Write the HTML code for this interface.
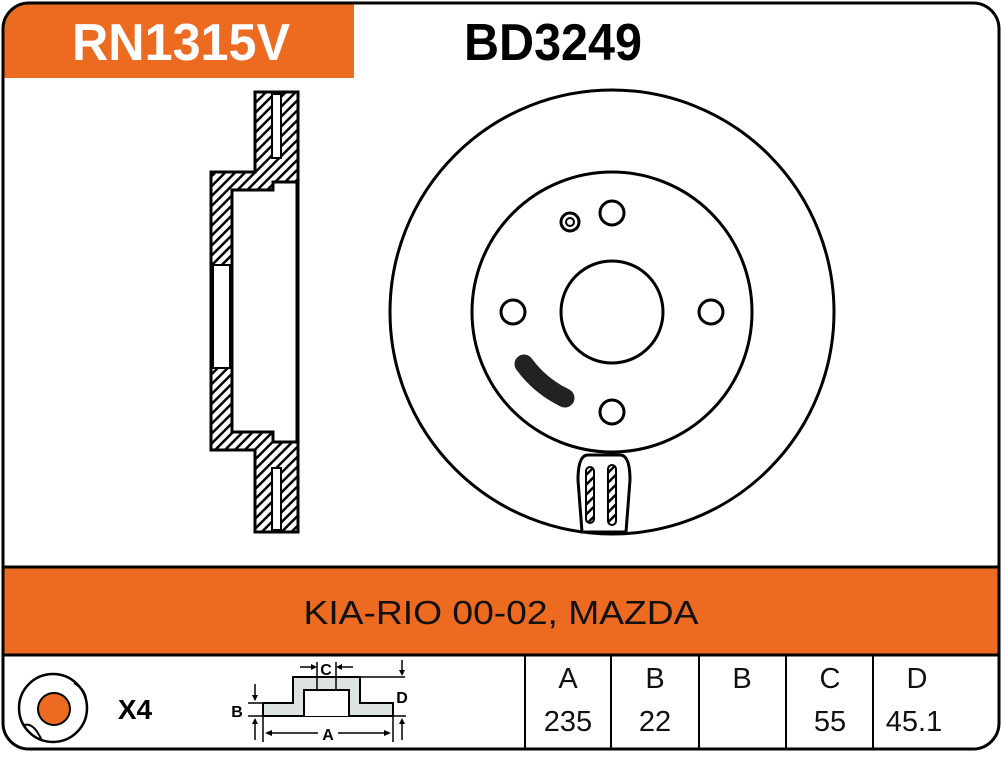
<!DOCTYPE html>
<html><head><meta charset="utf-8"><style>
body{margin:0;background:#fff;width:1002px;height:752px;overflow:hidden;font-family:"Liberation Sans",sans-serif}
</style></head><body>
<svg width="1002" height="752" viewBox="0 0 1002 752" xmlns="http://www.w3.org/2000/svg">
<defs>
<pattern id="h" width="7" height="7" patternUnits="userSpaceOnUse" patternTransform="rotate(45)">
<rect width="7" height="7" fill="#fff"/><rect width="2.5" height="7" fill="#000"/>
</pattern>
<clipPath id="outer"><rect x="3" y="3" width="996" height="746" rx="26"/></clipPath>
</defs>
<g clip-path="url(#outer)">
<rect x="3" y="3" width="351" height="75" fill="#ed6b21"/>
<rect x="0" y="567" width="1002" height="88" fill="#ed6b21"/>
</g>
<line x1="3" y1="567" x2="999" y2="567" stroke="#000" stroke-width="3"/>
<line x1="3" y1="655" x2="999" y2="655" stroke="#000" stroke-width="3"/>
<rect x="3" y="3" width="996" height="746" rx="26" fill="none" stroke="#000" stroke-width="3"/>
<text x="72" y="60" font-weight="bold" font-size="52" fill="#fff" textLength="218" lengthAdjust="spacingAndGlyphs">RN1315V</text>
<text x="464" y="60" font-weight="bold" font-size="52" fill="#000" textLength="178" lengthAdjust="spacingAndGlyphs">BD3249</text>
<text x="501" y="624" font-size="33" fill="#111" text-anchor="middle" textLength="395" lengthAdjust="spacingAndGlyphs">KIA-RIO 00-02, MAZDA</text>

<!-- section view -->
<g stroke="#000" stroke-width="3">
<path d="M255,92 H298 V532 H255 V450 H211 V172 H255 Z" fill="url(#h)"/>
<path d="M232,190 H273 V182 H297 V442 H273 V432 H232 Z" fill="#fff"/>
<rect x="213" y="265" width="17" height="103" fill="#fff" stroke-width="2"/>
<rect x="272" y="94" width="9" height="64" fill="#fff" stroke-width="2"/>
<rect x="272" y="468" width="9" height="62" fill="#fff" stroke-width="2"/>
</g>

<!-- face view -->
<g fill="none" stroke="#000" stroke-width="3">
<circle cx="612" cy="312" r="222"/>
<circle cx="612" cy="312" r="140"/>
<circle cx="612" cy="312" r="51"/>
<circle cx="612" cy="213" r="12"/>
<circle cx="513" cy="312" r="12"/>
<circle cx="711" cy="312" r="12"/>
<circle cx="612" cy="412" r="12"/>
<circle cx="570" cy="222" r="9"/>
<circle cx="570" cy="222" r="4" stroke-width="2"/>
</g>
<path d="M524,364 Q540,386 565,398" stroke="#222" stroke-width="19" stroke-linecap="round" fill="none"/>
<path d="M588,455 Q578,455 578,480 L582,532 H626 L630,480 Q630,455 620,455 Z" fill="#fff" stroke="#000" stroke-width="3"/>
<rect x="586" y="467" width="8" height="56" rx="4" fill="url(#h)" stroke="#000" stroke-width="2"/>
<rect x="608" y="465" width="8" height="60" rx="4" fill="url(#h)" stroke="#000" stroke-width="2"/>

<!-- bottom table -->
<g stroke="#000" stroke-width="2">
<line x1="525" y1="656" x2="525" y2="749"/>
<line x1="611" y1="656" x2="611" y2="749"/>
<line x1="699" y1="656" x2="699" y2="749"/>
<line x1="786" y1="656" x2="786" y2="749"/>
<line x1="873" y1="656" x2="873" y2="749"/>
</g>
<g font-size="29" fill="#111" text-anchor="middle">
<text x="568" y="688">A</text><text x="655" y="688">B</text><text x="742" y="688">B</text><text x="830" y="688">C</text><text x="917" y="688">D</text>
<text x="568" y="731">235</text><text x="655" y="731">22</text><text x="830" y="731">55</text><text x="914" y="731">45.1</text>
</g>

<!-- small disc icon -->
<circle cx="53" cy="708" r="34" fill="#fff" stroke="#000" stroke-width="2.5"/>
<circle cx="54" cy="709" r="16" fill="#ed6b21" stroke="#000" stroke-width="2"/>
<path d="M74,683 Q86,690 86,700" fill="none" stroke="#000" stroke-width="2"/>
<path d="M24,725 Q34,722 42,741" fill="none" stroke="#000" stroke-width="2"/>
<text x="135" y="719" font-weight="bold" font-size="28" text-anchor="middle">X4</text>

<!-- dimension diagram -->
<path d="M263,703 H293 V677 H360 V703 H393 V716 H263 Z" fill="#dde3df" stroke="#000" stroke-width="2"/>
<path d="M304,716 V690 H349 V716" fill="#fff" stroke="#000" stroke-width="2"/>
<g stroke="#000" stroke-width="1.5" fill="none">
<line x1="317" y1="662" x2="317" y2="690"/><line x1="336" y1="662" x2="336" y2="690"/>
<line x1="360" y1="677" x2="405" y2="677"/><line x1="402" y1="660" x2="402" y2="674"/>
<line x1="248" y1="703" x2="263" y2="703"/><line x1="248" y1="716" x2="263" y2="716"/>
<line x1="393" y1="716" x2="406" y2="716"/>
<line x1="255" y1="684" x2="255" y2="700"/><line x1="255" y1="720" x2="255" y2="740"/>
<line x1="402" y1="720" x2="402" y2="740"/>
<line x1="263" y1="716" x2="263" y2="742"/><line x1="393" y1="716" x2="393" y2="742"/>
<line x1="300" y1="667" x2="314" y2="667"/><line x1="339" y1="667" x2="353" y2="667"/>
<line x1="268" y1="733" x2="318" y2="733"/><line x1="338" y1="733" x2="388" y2="733"/>
</g>
<g fill="#000">
<path d="M317,667 l-6,-3 v6 z"/><path d="M336,667 l6,-3 v6 z"/>
<path d="M265,733 l7,-3 v6 z"/><path d="M391,733 l-7,-3 v6 z"/>
<path d="M255,701 l-3,-6 h6 z"/><path d="M255,718 l-3,6 h6 z"/>
<path d="M402,676 l-3,-6 h6 z"/><path d="M402,718 l-3,6 h6 z"/>
</g>
<g font-weight="bold" font-size="16" text-anchor="middle">
<text x="326" y="675">C</text><text x="237" y="717">B</text><text x="402" y="703">D</text><text x="328" y="740">A</text>
</g>
</svg>
</body></html>
